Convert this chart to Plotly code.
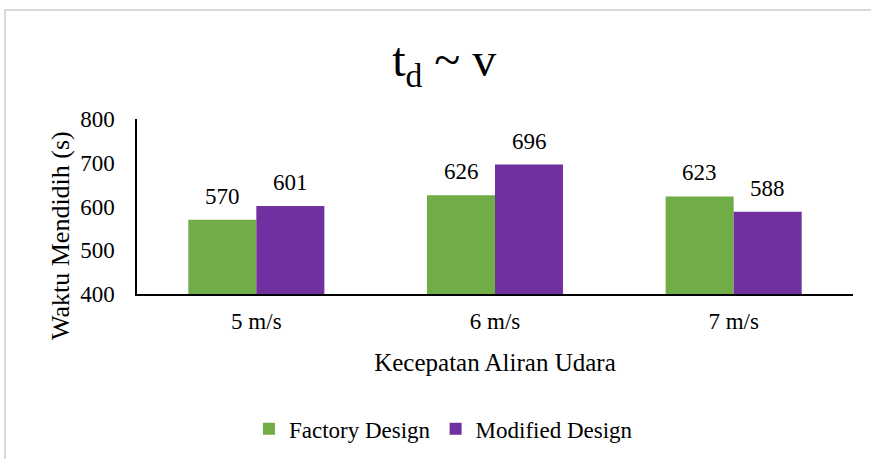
import plotly.graph_objects as go

categories = ["5 m/s", "6 m/s", "7 m/s"]
factory_design = [570, 626, 623]
modified_design = [601, 696, 588]
y_ticks = [400, 500, 600, 700, 800]

FONT = "Liberation Serif"
GREEN = "#70AD47"
PURPLE = "#7030A0"

fig = go.Figure()
fig.add_trace(go.Bar(
    x=categories, y=factory_design, name="Factory Design",
    marker=dict(color=GREEN, line=dict(width=0)),
))
fig.add_trace(go.Bar(
    x=categories, y=modified_design, name="Modified Design",
    marker=dict(color=PURPLE, line=dict(width=0)),
))

# value labels above each bar (bar half-width of ~34 px sets the offset)
for values, shift in ((factory_design, -34), (modified_design, 34)):
    for cat, val in zip(categories, values):
        fig.add_annotation(
            x=cat, y=val, text=str(val), showarrow=False,
            xshift=shift, yshift=9, yanchor="bottom",
            font=dict(family=FONT, size=23, color="#000000"),
        )

# vertical axis title, placed a little below the plot's mid-height
fig.add_annotation(
    text="Waktu Mendidih (s)", textangle=-90, showarrow=False,
    xref="paper", yref="paper",
    x=(60 - 137) / 716, y=(294 - 236) / 175,
    xanchor="center", yanchor="middle",
    font=dict(family=FONT, size=26, color="#000000"),
)

fig.update_layout(
    width=871, height=459,
    margin=dict(l=137, r=18, t=119, b=165),
    paper_bgcolor="white", plot_bgcolor="white",
    font=dict(family=FONT, color="#000000", size=23),
    barmode="group", bargap=0.43, bargroupgap=0,
    title=dict(text="t<sub>d</sub> ~ v", x=0.51, xanchor="center",
               y=0.87, yanchor="middle",
               font=dict(family=FONT, size=48, color="#000000")),
    legend=dict(orientation="h", x=0.428, xanchor="center", y=0.066,
                yanchor="middle", yref="container",
                font=dict(family=FONT, size=23, color="#000000"),
                itemwidth=30, traceorder="normal"),
    showlegend=True,
    xaxis=dict(
        showline=True, linecolor="#000000", linewidth=2,
        ticks="outside", ticklen=5, tickcolor="rgba(0,0,0,0)",
        showgrid=False, tickfont=dict(family=FONT, size=23),
        title=dict(text="Kecepatan Aliran Udara", standoff=21,
                   font=dict(family=FONT, size=25)),
    ),
    yaxis=dict(
        range=[400, 800], tickvals=y_ticks,
        showline=True, linecolor="#000000", linewidth=1.5,
        ticks="outside", ticklen=16, tickcolor="rgba(0,0,0,0)",
        showgrid=False, zeroline=False,
        tickfont=dict(family=FONT, size=23),
    ),
)

# light grey frame around the whole chart area
fig.add_shape(type="rect", xref="paper", yref="paper",
              x0=(5 - 137) / 716, x1=(880 - 137) / 716,
              y0=(294 - 470) / 175, y1=(294 - 10) / 175,
              line=dict(color="#D9D9D9", width=2), layer="below")

fig.write_html("out.html")
